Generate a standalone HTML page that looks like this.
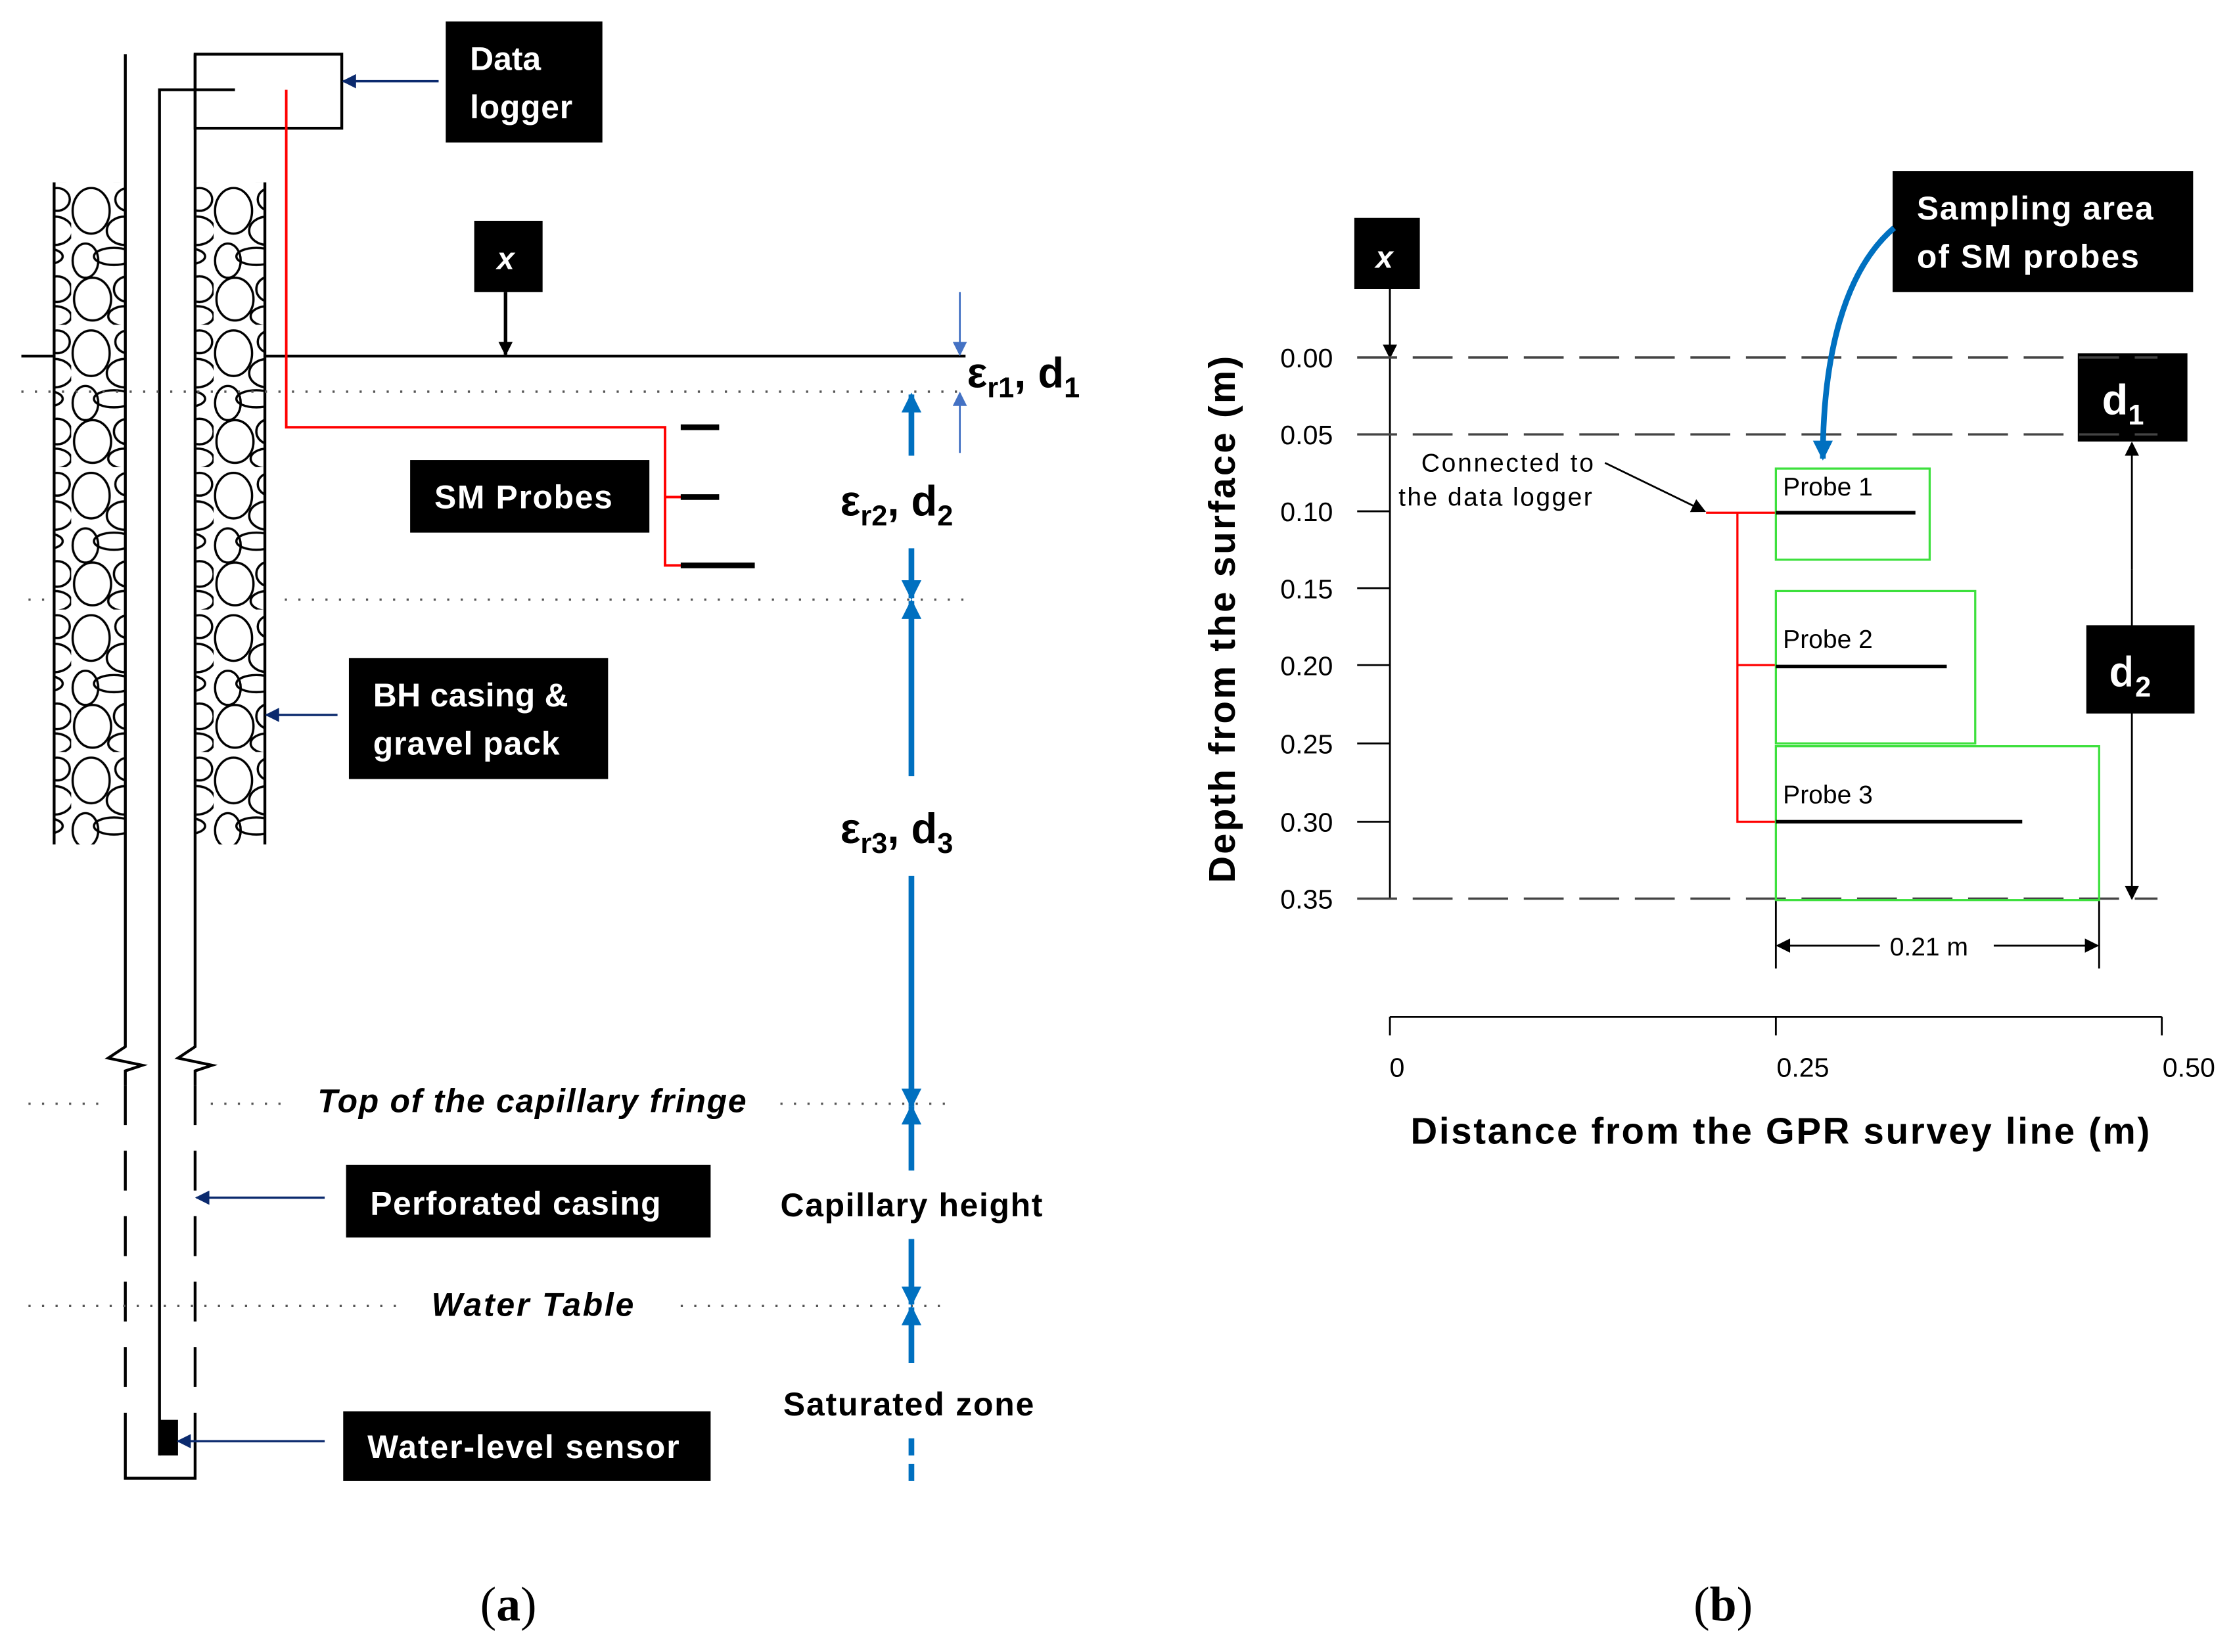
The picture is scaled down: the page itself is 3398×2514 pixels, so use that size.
<!DOCTYPE html>
<html><head><meta charset="utf-8"><style>html,body{margin:0;padding:0;background:#fff}svg{display:block}</style></head><body>
<svg width="3398" height="2514" viewBox="0 0 1568 1160" xmlns="http://www.w3.org/2000/svg" font-family="Liberation Sans, sans-serif">
<defs>
<marker id="nv" viewBox="0 0 10 10" refX="9" refY="5" markerWidth="12" markerHeight="10" markerUnits="userSpaceOnUse" orient="auto"><path d="M0,0L10,5L0,10z" fill="#0b2a6e"/></marker>
<marker id="bl" viewBox="0 0 10 10" refX="9" refY="5" markerWidth="16" markerHeight="14" markerUnits="userSpaceOnUse" orient="auto"><path d="M0,0L10,5L0,10z" fill="#0070c0"/></marker>
<marker id="bls" viewBox="0 0 10 10" refX="9" refY="5" markerWidth="12" markerHeight="10" markerUnits="userSpaceOnUse" orient="auto"><path d="M0,0L10,5L0,10z" fill="#4472c4"/></marker>
<marker id="bk" viewBox="0 0 10 10" refX="9" refY="5" markerWidth="12" markerHeight="10" markerUnits="userSpaceOnUse" orient="auto"><path d="M0,0L10,5L0,10z" fill="#000"/></marker>
<pattern id="grav" x="0" y="128" width="50" height="100" patternUnits="userSpaceOnUse">
<g fill="none" stroke="#000" stroke-width="1.6">
<ellipse cx="14" cy="20" rx="13" ry="16"/><ellipse cx="38" cy="34" rx="13" ry="10"/><ellipse cx="30" cy="52" rx="14" ry="6"/><ellipse cx="10" cy="55" rx="9" ry="12"/><ellipse cx="40" cy="12" rx="9" ry="8"/><ellipse cx="15" cy="82" rx="13" ry="15"/><ellipse cx="40" cy="75" rx="10" ry="9"/><ellipse cx="38" cy="94" rx="12" ry="7"/>
</g></pattern>
</defs>
<rect width="1568" height="1160" fill="#fff"/>
<rect x="38" y="128" width="50" height="465" fill="url(#grav)"/>
<rect x="138" y="128" width="48" height="465" fill="url(#grav)"/>
<g stroke="#000" stroke-width="2" fill="none">
<line x1="38" y1="128" x2="38" y2="593"/><line x1="186" y1="128" x2="186" y2="593"/>
<path d="M88,38V735 L76,743 L100,748 L88,752 V762"/>
<path d="M137,38V735 L125,743 L149,748 L137,752 V762"/>
<line x1="88" y1="762" x2="88" y2="1038" stroke-dasharray="28,18"/>
<line x1="137" y1="762" x2="137" y2="1038" stroke-dasharray="28,18"/>
<path d="M88,1020V1038H137V1020"/>
<path d="M112,1022V63H165"/>
<rect x="137" y="38" width="103" height="52"/>
<line x1="15" y1="250" x2="38" y2="250"/><line x1="186" y1="250" x2="678" y2="250"/>
</g>
<rect x="112" y="997" width="13" height="25" fill="#000"/>
<path d="M201,63V300H467V397H480M467,349H480" stroke="#f00" stroke-width="1.8" fill="none"/>
<g stroke="#000" stroke-width="4"><line x1="478" y1="300" x2="505" y2="300"/><line x1="478" y1="349" x2="505" y2="349"/><line x1="478" y1="397" x2="530" y2="397"/></g>
<g stroke="#555" stroke-width="1.6" stroke-dasharray="1.5,8" fill="none">
<line x1="15" y1="275" x2="678" y2="275"/>
<line x1="20" y1="421" x2="38" y2="421"/><line x1="200" y1="421" x2="678" y2="421"/>
<line x1="20" y1="775" x2="75" y2="775"/><line x1="148" y1="775" x2="200" y2="775"/><line x1="548" y1="775" x2="668" y2="775"/>
<line x1="20" y1="917" x2="280" y2="917"/><line x1="478" y1="917" x2="668" y2="917"/>
</g>
<g stroke="#0b2a6e" stroke-width="1.6">
<line x1="308" y1="57" x2="241" y2="57" marker-end="url(#nv)"/>
<line x1="237" y1="502" x2="187" y2="502" marker-end="url(#nv)"/>
<line x1="228" y1="841" x2="138" y2="841" marker-end="url(#nv)"/>
<line x1="228" y1="1012" x2="125" y2="1012" marker-end="url(#nv)"/>
</g>
<line x1="355" y1="205" x2="355" y2="249" stroke="#000" stroke-width="2.5" marker-end="url(#bk)"/>
<g stroke="#4472c4" stroke-width="1.3">
<line x1="674" y1="205" x2="674" y2="249" marker-end="url(#bls)"/>
<line x1="674" y1="318" x2="674" y2="276" marker-end="url(#bls)"/>
</g>
<g stroke="#0070c0" stroke-width="4">
<line x1="640" y1="320" x2="640" y2="277" marker-end="url(#bl)"/>
<line x1="640" y1="385" x2="640" y2="420" marker-end="url(#bl)"/>
<line x1="640" y1="545" x2="640" y2="422" marker-end="url(#bl)"/>
<line x1="640" y1="615" x2="640" y2="777" marker-end="url(#bl)"/>
<line x1="640" y1="822" x2="640" y2="777" marker-end="url(#bl)"/>
<line x1="640" y1="870" x2="640" y2="916" marker-end="url(#bl)"/>
<line x1="640" y1="957" x2="640" y2="918" marker-end="url(#bl)"/>
<line x1="640" y1="1010" x2="640" y2="1040" stroke-dasharray="12,6"/>
</g>
<g fill="#000">
<rect x="313" y="15" width="110" height="85"/><rect x="288" y="323" width="168" height="51"/>
<rect x="245" y="462" width="182" height="85"/><rect x="243" y="818" width="256" height="51"/>
<rect x="241" y="991" width="258" height="49"/><rect x="333" y="155" width="48" height="50"/>
<rect x="951" y="153" width="46" height="50"/><rect x="1329" y="120" width="211" height="85"/>
<rect x="1459" y="248" width="77" height="62"/><rect x="1465" y="439" width="76" height="62"/>
</g>
<g fill="#fff" font-weight="bold" font-size="23">
<text x="330" y="49">Data</text><text x="330" y="83" textLength="72">logger</text>
<text x="305" y="357" textLength="125">SM Probes</text>
<text x="262" y="496" textLength="137">BH casing &amp;</text><text x="262" y="530" textLength="131">gravel pack</text>
<text x="260" y="853" textLength="204">Perforated casing</text>
<text x="258" y="1024" textLength="219">Water-level sensor</text>
<text x="1346" y="154" textLength="166">Sampling area</text><text x="1346" y="188" textLength="156">of SM probes</text>
<text x="349" y="189" font-style="italic" font-size="22">x</text>
<text x="966" y="188" font-style="italic" font-size="22">x</text>
<text x="1476" y="291" font-size="30">d<tspan font-size="20" dy="7">1</tspan></text>
<text x="1481" y="482" font-size="30">d<tspan font-size="20" dy="7">2</tspan></text>
</g>
<g font-weight="bold" font-size="30" fill="#000">
<text x="679" y="272">ε<tspan font-size="20" dy="7">r1</tspan><tspan dy="-7">, d</tspan><tspan font-size="20" dy="7">1</tspan></text>
<text x="590" y="362">ε<tspan font-size="20" dy="7">r2</tspan><tspan dy="-7">, d</tspan><tspan font-size="20" dy="7">2</tspan></text>
<text x="590" y="592">ε<tspan font-size="20" dy="7">r3</tspan><tspan dy="-7">, d</tspan><tspan font-size="20" dy="7">3</tspan></text>
</g>
<g font-weight="bold" font-size="23" fill="#000">
<text x="548" y="854" textLength="184">Capillary height</text>
<text x="550" y="994" textLength="176">Saturated zone</text>
<text x="223" y="781" font-style="italic" textLength="301">Top of the capillary fringe</text>
<text x="303" y="924" font-style="italic" textLength="142">Water Table</text>
</g>
<text x="357" y="1138" font-family="Liberation Serif, serif" font-size="34" text-anchor="middle">(<tspan font-weight="bold">a</tspan>)</text>
<text x="1210" y="1138" font-family="Liberation Serif, serif" font-size="34" text-anchor="middle">(<tspan font-weight="bold">b</tspan>)</text>
<g stroke="#000" stroke-width="1.3" fill="none">
<line x1="976" y1="203" x2="976" y2="631"/>
<line x1="976" y1="203" x2="976" y2="251" marker-end="url(#bk)"/>
<line x1="953" y1="359" x2="976" y2="359"/><line x1="953" y1="413" x2="976" y2="413"/><line x1="953" y1="467" x2="976" y2="467"/><line x1="953" y1="522" x2="976" y2="522"/><line x1="953" y1="577" x2="976" y2="577"/>
<line x1="1497" y1="400" x2="1497" y2="311" marker-end="url(#bk)"/>
<line x1="1497" y1="400" x2="1497" y2="631" marker-end="url(#bk)"/>
<line x1="1247" y1="632" x2="1247" y2="680"/><line x1="1474" y1="632" x2="1474" y2="680"/>
<line x1="1320" y1="664" x2="1248" y2="664" marker-end="url(#bk)"/><line x1="1400" y1="664" x2="1473" y2="664" marker-end="url(#bk)"/>
<line x1="976" y1="714" x2="1518" y2="714"/><line x1="976" y1="714" x2="976" y2="727"/><line x1="1247" y1="714" x2="1247" y2="727"/><line x1="1518" y1="714" x2="1518" y2="727"/>
<line x1="1127" y1="325" x2="1197" y2="359" marker-end="url(#bk)"/>
</g>
<g stroke="#444" stroke-width="1.6" stroke-dasharray="28,11">
<line x1="953" y1="251" x2="1515" y2="251"/><line x1="953" y1="305" x2="1515" y2="305"/><line x1="953" y1="631" x2="1515" y2="631"/>
</g>
<path d="M1198,360H1247M1220,360V577H1247M1220,467H1247" stroke="#f00" stroke-width="1.5" fill="none"/>
<g stroke="#3de03d" stroke-width="1.5" fill="none">
<rect x="1247" y="329" width="108" height="64"/><rect x="1247" y="415" width="140" height="107"/><rect x="1247" y="524" width="227" height="108"/>
</g>
<g stroke="#000" stroke-width="2.5"><line x1="1247" y1="360" x2="1345" y2="360"/><line x1="1247" y1="468" x2="1367" y2="468"/><line x1="1247" y1="577" x2="1420" y2="577"/></g>
<path d="M1330,160 C1295,190 1280,250 1280,322" stroke="#0070c0" stroke-width="4" fill="none" marker-end="url(#bl)"/>
<g font-size="18" fill="#000">
<text x="1252" y="348">Probe 1</text><text x="1252" y="455">Probe 2</text><text x="1252" y="564">Probe 3</text>
<text x="998" y="331" textLength="121">Connected to</text><text x="982" y="355" textLength="136">the data logger</text>
<text x="1327" y="671">0.21 m</text>
</g>
<g font-size="19" fill="#000" text-anchor="end">
<text x="936" y="258">0.00</text><text x="936" y="312">0.05</text><text x="936" y="366">0.10</text><text x="936" y="420">0.15</text><text x="936" y="474">0.20</text><text x="936" y="529">0.25</text><text x="936" y="584">0.30</text><text x="936" y="638">0.35</text>
</g>
<g font-size="19" fill="#000" text-anchor="middle">
<text x="981" y="756">0</text><text x="1266" y="756">0.25</text><text x="1537" y="756">0.50</text>
</g>
<text x="1250" y="803" font-size="26" font-weight="bold" text-anchor="middle" textLength="519">Distance from the GPR survey line (m)</text>
<text transform="translate(867,435) rotate(-90)" font-size="26" font-weight="bold" text-anchor="middle" textLength="370">Depth from the surface (m)</text>
</svg>
</body></html>
